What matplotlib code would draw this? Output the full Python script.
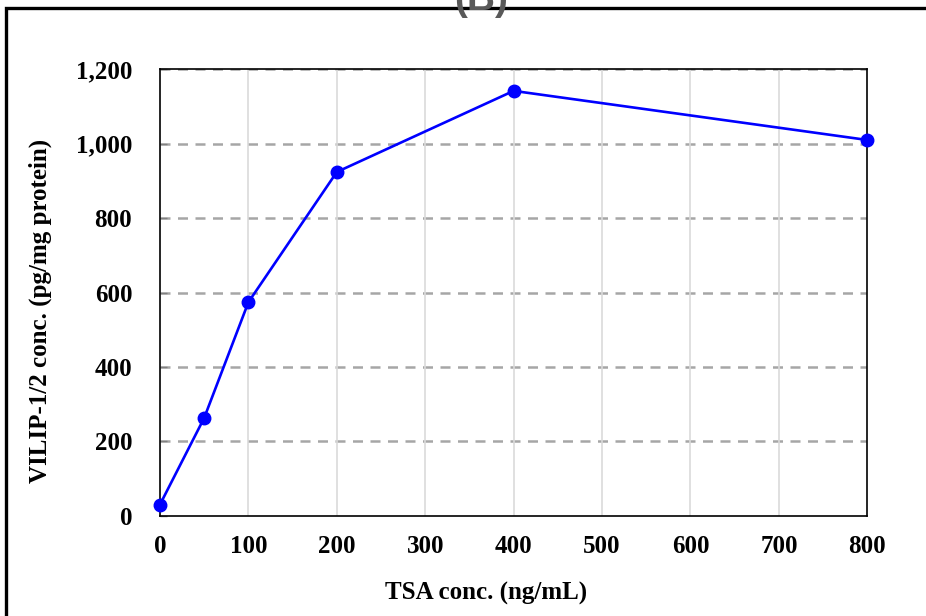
import matplotlib
matplotlib.use("Agg")
import matplotlib.pyplot as plt
from matplotlib.patches import Rectangle
from matplotlib.ticker import FuncFormatter

# Data
tsa_conc = [0, 50, 100, 200, 400, 800]
vilip_conc = [30, 263, 574, 924, 1142, 1010]
x_ticks = [0, 100, 200, 300, 400, 500, 600, 700, 800]
y_ticks = [0, 200, 400, 600, 800, 1000, 1200]

plt.rcParams['font.family'] = ['Liberation Serif', 'DejaVu Serif']

fig = plt.figure(figsize=(9.26, 6.16), dpi=100)
ax = fig.add_axes([160/926, 1-515.7/616, (867.3-160)/926, (515.7-69.3)/616])

# Figure frame (cut off at right and bottom, as in the source image)
fig.patches.append(Rectangle((6/926, -0.2), 1.5, 0.2 + 1 - 7.5/616,
                             transform=fig.transFigure, fill=False,
                             edgecolor='black', linewidth=2.4))

# Panel label, partially visible at the top edge as in the source image
fig.text(481/926, 1 - 10/616, "(B)", ha='center', va='baseline',
         fontsize=28, fontweight='bold', color='#595959',
         family=['Liberation Sans', 'DejaVu Sans'])

ax.set_xlim(0, 800)
ax.set_ylim(0, 1200)
ax.set_xticks(x_ticks)
ax.set_yticks(y_ticks)

for y in y_ticks[1:]:
    ax.axhline(y, color='#a6a6a6', linewidth=1.8, linestyle=(0, (4, 3)), zorder=1)
for x in x_ticks[1:-1]:
    ax.axvline(x, color='#dadada', linewidth=1.2, zorder=1)

ax.plot(tsa_conc, vilip_conc, color='#0000ff', linewidth=1.9, marker='o',
        markersize=9, markerfacecolor='#0000ff', markeredgecolor='#0000ff',
        zorder=3, clip_on=False)

ax.yaxis.set_major_formatter(FuncFormatter(lambda v, p: f"{int(v):,}"))
ax.tick_params(axis='y', direction='in', length=5, width=1, color='#808080',
               pad=20, labelsize=18)
ax.tick_params(axis='x', length=0, pad=14, labelsize=18)
for lab in ax.get_xticklabels() + ax.get_yticklabels():
    lab.set_fontweight('bold')

for s in ax.spines.values():
    s.set_linewidth(1.2)
    s.set_color('black')

fig.text(486/926, 1 - 593/616, "TSA conc. (ng/mL)", ha='center', va='center',
         fontsize=18, fontweight='bold')
fig.text(40/926, 1 - 311/616, "VILIP-1/2 conc. (pg/mg protein)", ha='center',
         va='center', rotation=90, fontsize=18, fontweight='bold')

fig.savefig("out.png", dpi=100)
